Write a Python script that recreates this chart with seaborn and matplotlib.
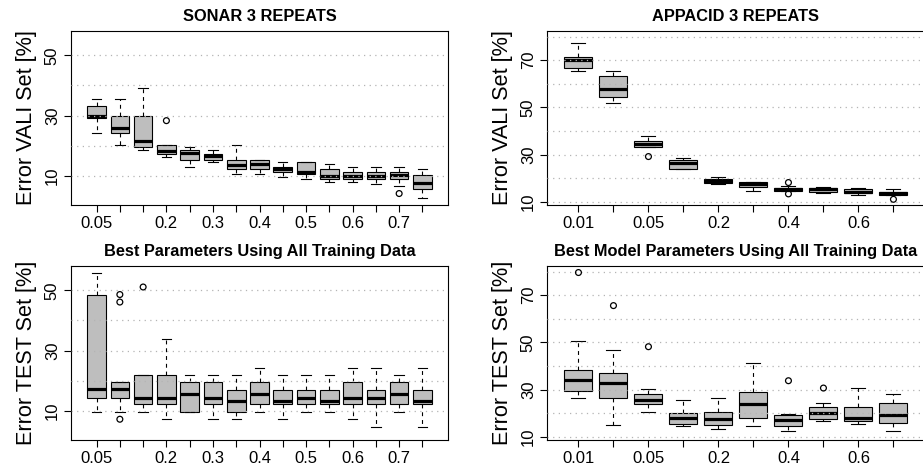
import numpy as np
import pandas as pd
import matplotlib
matplotlib.use("Agg")
import matplotlib.pyplot as plt
from matplotlib.ticker import MultipleLocator
import seaborn as sns

plt.rcParams['font.family'] = ['Liberation Sans', 'DejaVu Sans']

# x categories (R only printed every other label)
sonar_params = ['0.05', '0.1', '0.15', '0.2', '0.25', '0.3', '0.35', '0.4',
                '0.45', '0.5', '0.55', '0.6', '0.65', '0.7', '0.75']
sonar_shown = ['0.05', '', '', '0.2', '', '0.3', '', '0.4', '', '0.5', '',
               '0.6', '', '0.7', '']
appacid_params = ['0.01', '0.03', '0.05', '0.1', '0.2', '0.3', '0.4', '0.5',
                  '0.6', '0.7']
appacid_shown = ['0.01', '', '0.05', '', '0.2', '', '0.4', '', '0.6', '']

# box summaries: lower whisker, Q1, median, Q3, upper whisker
sonar_vali_lo = [24.3, 20.2, 18.6, 16.3, 13.0, 14.5, 10.7, 10.7, 9.7, 8.8, 8.0, 8.0, 7.2, 6.5, 2.5]
sonar_vali_q1 = [29.1, 24.3, 19.5, 17.1, 15.4, 15.4, 12.1, 12.1, 11.3, 10.6, 8.8, 8.8, 8.8, 8.8, 5.6]
sonar_vali_med = [30.0, 26.0, 21.5, 18.3, 17.4, 16.6, 13.5, 13.9, 12.4, 11.3, 10.0, 10.0, 10.0, 10.4, 7.5]
sonar_vali_q3 = [33.2, 30.0, 30.0, 20.2, 18.6, 17.2, 15.4, 15.4, 13.0, 14.6, 12.1, 11.3, 11.3, 11.3, 10.4]
sonar_vali_hi = [35.6, 35.6, 39.0, 20.3, 19.4, 18.6, 20.2, 15.4, 14.5, 14.6, 13.8, 13.0, 13.0, 13.0, 12.1]
sonar_vali_out = [('0.2', 28.3), ('0.7', 4.1)]

sonar_test_lo = [9.7, 9.7, 9.7, 7.2, 9.7, 7.2, 7.2, 9.7, 7.2, 9.7, 9.7, 7.2, 4.7, 9.7, 4.7]
sonar_test_q1 = [14.4, 14.4, 12.1, 12.1, 9.7, 12.1, 9.7, 12.1, 12.1, 12.1, 12.1, 12.1, 12.1, 12.1, 12.1]
sonar_test_med = [17.1, 17.1, 14.4, 14.4, 15.7, 14.4, 13.3, 15.7, 13.3, 14.4, 13.3, 14.4, 14.4, 15.7, 13.3]
sonar_test_q3 = [48.6, 19.4, 21.8, 21.8, 19.4, 19.4, 16.9, 19.4, 16.9, 16.9, 16.9, 19.4, 16.9, 19.4, 16.9]
sonar_test_hi = [55.9, 19.4, 21.8, 34.0, 21.8, 21.8, 21.8, 24.3, 21.8, 21.8, 21.8, 24.3, 24.3, 21.8, 24.3]
sonar_test_out = [('0.1', 48.6), ('0.1', 46.1), ('0.1', 7.2), ('0.15', 51.1)]

appacid_vali_lo = [65.4, 51.7, 33.4, 23.9, 17.5, 14.6, 14.8, 13.7, 12.8, 13.0]
appacid_vali_q1 = [66.8, 54.6, 33.4, 23.9, 17.9, 16.5, 14.8, 14.4, 13.7, 13.0]
appacid_vali_med = [70.0, 57.9, 34.4, 26.3, 18.9, 17.6, 15.5, 15.4, 14.4, 13.7]
appacid_vali_q3 = [71.3, 63.4, 35.8, 27.7, 19.6, 18.3, 16.1, 16.1, 15.4, 14.2]
appacid_vali_hi = [77.3, 65.6, 38.0, 28.7, 20.4, 18.6, 16.8, 16.5, 15.8, 15.4]
appacid_vali_out = [('0.05', 29.2), ('0.4', 18.2), ('0.4', 13.4), ('0.7', 11.1)]

appacid_test_lo = [26.3, 15.2, 20.7, 14.8, 13.2, 14.6, 12.4, 16.9, 15.6, 12.7]
appacid_test_q1 = [29.4, 26.3, 23.8, 15.4, 15.1, 17.9, 14.6, 17.5, 16.8, 15.8]
appacid_test_med = [34.1, 32.7, 25.6, 18.2, 17.7, 23.8, 17.0, 20.0, 18.0, 19.3]
appacid_test_q3 = [38.5, 36.9, 28.0, 20.3, 20.7, 29.2, 19.2, 22.8, 22.5, 24.5]
appacid_test_hi = [50.8, 46.9, 30.3, 25.8, 26.3, 41.1, 19.6, 24.2, 30.6, 28.3]
appacid_test_out = [('0.01', 79.6), ('0.03', 65.6), ('0.05', 48.2), ('0.4', 33.8), ('0.5', 30.7)]


def box_frame(params, lo, q1, med, q3, hi):
    rows = []
    for p, vals in zip(params, zip(lo, q1, med, q3, hi)):
        for v in vals:
            rows.append((p, v))
    return pd.DataFrame(rows, columns=['param', 'error'])


def draw_panel(ax, params, shown, df, outliers, title, ylabel, ylim, yticks):
    n = len(params)
    sns.boxplot(data=df, x='param', y='error', order=params, ax=ax,
                whis=(0, 100), width=0.8, color='#BEBEBE', saturation=1,
                linecolor='black', linewidth=0.8, fliersize=0,
                medianprops={'linewidth': 2.3, 'color': 'black'},
                whiskerprops={'linestyle': (0, (3.5, 3.5))})
    out_df = pd.DataFrame(outliers, columns=['param', 'error'])
    before = len(ax.collections)
    sns.stripplot(data=out_df, x='param', y='error', order=params, ax=ax,
                  jitter=False, size=4.2, color='black')
    for coll in ax.collections[before:]:
        coll.set_facecolor('none')
        coll.set_edgecolor('black')
        coll.set_linewidth(0.9)
        coll.set_zorder(3)

    ax.set_xlim(-0.5 - 0.04 * n, n - 0.5 + 0.04 * n)
    ax.set_ylim(*ylim)
    ax.set_xticks(range(n))
    ax.set_xticklabels(shown)
    ax.set_yticks(yticks)
    ax.set_yticklabels([str(t) for t in yticks], rotation=90, va='center')
    ax.yaxis.set_minor_locator(MultipleLocator(10))
    # dotted grid drawn over the boxes like R's grid(), same tone as the box fill
    ax.grid(axis='y', which='both', linestyle=(0, (1, 3.5)), color='#B4B4B4',
            linewidth=0.9)
    ax.set_axisbelow(False)
    ax.tick_params(axis='both', which='major', length=5, width=0.8,
                   labelsize=12, pad=3, color='black')
    ax.tick_params(axis='y', which='minor', length=0)
    ax.set_xlabel('')
    ax.set_ylabel(ylabel, fontsize=15.6, labelpad=6)
    ax.set_title(title, fontsize=11.8, fontweight='bold', pad=7)
    for s in ax.spines.values():
        s.set_linewidth(0.8)
        s.set_color('black')


fig = plt.figure(figsize=(9.23, 4.68), dpi=100)
ax1 = fig.add_axes([0.0769, 0.562, 0.4085, 0.372])
ax2 = fig.add_axes([0.5926, 0.562, 0.4095, 0.372])
ax3 = fig.add_axes([0.0769, 0.0598, 0.4085, 0.372])
ax4 = fig.add_axes([0.5926, 0.0598, 0.4095, 0.372])

draw_panel(ax1, sonar_params, sonar_shown,
           box_frame(sonar_params, sonar_vali_lo, sonar_vali_q1, sonar_vali_med,
                     sonar_vali_q3, sonar_vali_hi),
           sonar_vali_out, 'SONAR 3 REPEATS', 'Error VALI Set [%]',
           (0.3, 58.1), [10, 30, 50])
draw_panel(ax2, appacid_params, appacid_shown,
           box_frame(appacid_params, appacid_vali_lo, appacid_vali_q1, appacid_vali_med,
                     appacid_vali_q3, appacid_vali_hi),
           appacid_vali_out, 'APPACID 3 REPEATS', 'Error VALI Set [%]',
           (8.7, 82.4), [10, 30, 50, 70])
draw_panel(ax3, sonar_params, sonar_shown,
           box_frame(sonar_params, sonar_test_lo, sonar_test_q1, sonar_test_med,
                     sonar_test_q3, sonar_test_hi),
           sonar_test_out, 'Best Parameters Using All Training Data', 'Error TEST Set [%]',
           (0.3, 58.1), [10, 30, 50])
draw_panel(ax4, appacid_params, appacid_shown,
           box_frame(appacid_params, appacid_test_lo, appacid_test_q1, appacid_test_med,
                     appacid_test_q3, appacid_test_hi),
           appacid_test_out, 'Best Model Parameters Using All Training Data',
           'Error TEST Set [%]', (8.7, 82.4), [10, 30, 50, 70])

fig.savefig('out.png', dpi=100)
